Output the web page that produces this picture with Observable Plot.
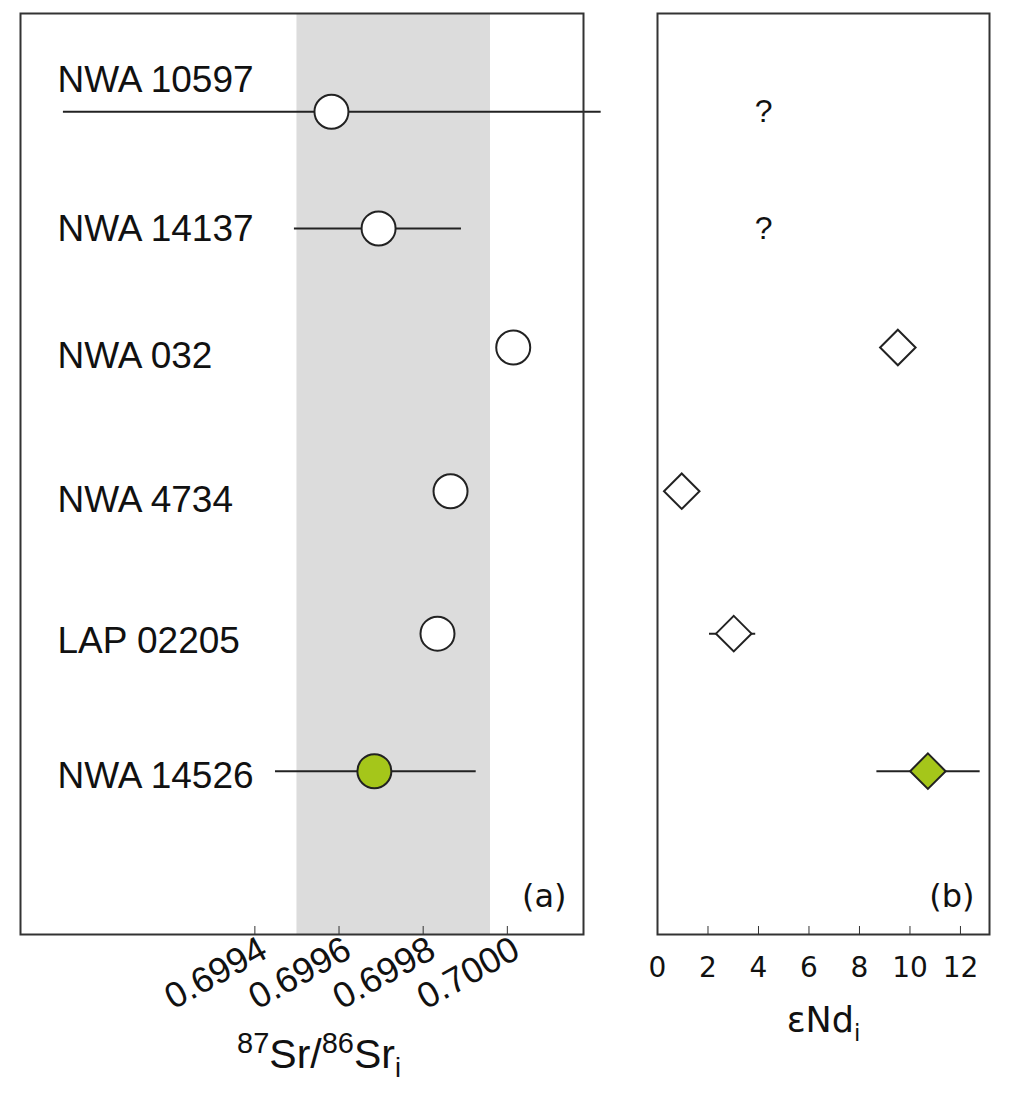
<!DOCTYPE html>
<html><head><meta charset="utf-8">
<script src="https://cdn.jsdelivr.net/npm/d3@7"></script>
<script src="https://cdn.jsdelivr.net/npm/@observablehq/plot@0.6"></script>
<style>
body{margin:0;background:#fff;}
#wrap{position:relative;width:1009px;height:1098px;overflow:hidden;}
#a,#b{position:absolute;top:0;}
#a{left:0}
#b{left:620px}
svg{overflow:visible}
</style></head><body><div id="wrap"><div id="a"></div><div id="b"></div></div>
<script>
// ---- data ----
const samples  = ["NWA 10597","NWA 14137","NWA 032","NWA 4734","LAP 02205","NWA 14526"];
const rowPos   = [0.80, 1.75, 2.72, 3.89, 5.05, 6.17];   // vertical position of each sample row
const labelPos = [0.54, 1.76, 2.79, 3.96, 5.11, 6.21];   // vertical position of each sample name
const srValue  = [0.699582, 0.699694, 0.700014, 0.699865, 0.699834, 0.699684];
const srLow    = [0.698945, 0.699494, null, null, null, 0.699449];
const srHigh   = [0.700223, 0.699891, null, null, null, 0.699926];
const ndValue  = [null, null, 9.52, 0.96, 3.02, 10.71];
const ndLow    = [null, null, null, null, 2.06, 8.69];
const ndHigh   = [null, null, null, null, 3.89, 12.78];
const isNew    = [false, false, false, false, false, true];
const srBand   = [0.6995, 0.69996];
const srTicks  = [0.6994, 0.6996, 0.6998, 0.7000];
const ndTicks  = [0, 2, 4, 6, 8, 10, 12];
const unknownNd = 4.2;
const srDomain = [0.698843, 0.700181];
const ndDomain = [0, 13.15];
const rowDomain = [0, 7.5];

const GREEN = "#a5c61a", INK = "#222", FRAME = "#333";
const rows = samples.map((s, i) => ({
  name: s, row: rowPos[i], lab: labelPos[i],
  sr: srValue[i], srLo: srLow[i], srHi: srHigh[i],
  nd: ndValue[i], ndLo: ndLow[i], ndHi: ndHigh[i], isNew: isNew[i]
}));
const sans = "Liberation Sans, Arial, Helvetica, sans-serif";
const deja = "DejaVu Sans, Verdana, sans-serif";

const plotA = Plot.plot({
  width: 620, height: 1098,
  marginLeft: 20, marginRight: 37, marginTop: 13, marginBottom: 164,
  style: {fontFamily: sans, background: "transparent", overflow: "visible"},
  x: {domain: srDomain},
  y: {domain: rowDomain, reverse: true, axis: null},
  marks: [
    Plot.rect([srBand], {x1: d => d[0], x2: d => d[1], fill: "#dcdcdc"}),
    Plot.ruleY(rows.filter(d => d.srLo != null), {y: "row", x1: "srLo", x2: "srHi", stroke: INK, strokeWidth: 2}),
    Plot.dot(rows.filter(d => !d.isNew), {x: "sr", y: "row", r: 17, fill: "white", stroke: INK, strokeWidth: 2}),
    Plot.dot(rows.filter(d => d.isNew), {x: "sr", y: "row", r: 17, fill: GREEN, stroke: INK, strokeWidth: 2}),
    Plot.text(rows, {y: "lab", text: "name", frameAnchor: "left", dx: 37, textAnchor: "start", fontSize: 37, fill: "#111"}),
    Plot.text(["(a)"], {text: d => d, frameAnchor: "bottom-right", dx: -17, dy: -38, textAnchor: "end", lineAnchor: "middle", fontSize: 32, fontFamily: deja, fill: "#111"}),
    Plot.frame({stroke: FRAME, strokeWidth: 2}),
    Plot.axisX({ticks: srTicks, tickSize: 8, dy: -8, tickFormat: () => "", stroke: FRAME, label: null}),
    Plot.axisX({ticks: srTicks, tickSize: 0, tickPadding: 12, dx: 9, tickRotate: -29, tickFormat: d3.format(".4f"), fontSize: 36, fill: "#111", label: null}),
    Plot.text(["87Sr/86Sri"], {text: d => d, frameAnchor: "bottom", dx: 17, dy: 120, lineAnchor: "middle", fontSize: 41, fill: "#111"})
  ]
});

const plotB = Plot.plot({
  width: 389, height: 1098,
  marginLeft: 37, marginRight: 20, marginTop: 13, marginBottom: 164,
  style: {fontFamily: deja, background: "transparent", overflow: "visible"},
  x: {domain: ndDomain},
  y: {domain: rowDomain, reverse: true, axis: null},
  marks: [
    Plot.ruleY(rows.filter(d => d.ndLo != null), {y: "row", x1: "ndLo", x2: "ndHi", stroke: INK, strokeWidth: 2}),
    Plot.dot(rows.filter(d => d.nd != null && !d.isNew), {x: "nd", y: "row", symbol: "diamond2", r: 16, fill: "white", stroke: INK, strokeWidth: 2}),
    Plot.dot(rows.filter(d => d.nd != null && d.isNew), {x: "nd", y: "row", symbol: "diamond2", r: 16, fill: GREEN, stroke: INK, strokeWidth: 2}),
    Plot.text(rows.filter(d => d.nd == null), {x: () => unknownNd, y: "row", text: () => "?", fontSize: 32, fontFamily: sans, fill: "#111"}),
    Plot.text(["(b)"], {text: d => d, frameAnchor: "bottom-right", dx: -15, dy: -38, textAnchor: "end", lineAnchor: "middle", fontSize: 32, fill: "#111"}),
    Plot.frame({stroke: FRAME, strokeWidth: 2}),
    Plot.axisX({ticks: ndTicks.filter(d => d > 0), tickSize: 8, dy: -8, tickFormat: () => "", stroke: FRAME, label: null}),
    Plot.axisX({ticks: ndTicks, tickSize: 0, tickPadding: 23, fontSize: 28, fill: "#111", label: null}),
    Plot.text(["εNdi"], {text: d => d, frameAnchor: "bottom", dx: 0, dy: 86, lineAnchor: "middle", fontSize: 35, fill: "#111"})
  ]
});

function richLabel(svg, plain, html) {
  svg.querySelectorAll("text").forEach(t => { if (t.textContent === plain) t.innerHTML = html; });
}
richLabel(plotA, "87Sr/86Sri",
  '<tspan font-size="29" dy="-15">87</tspan><tspan dy="15">Sr/</tspan><tspan font-size="29" dy="-15">86</tspan><tspan dy="15">Sr</tspan><tspan font-size="27" dy="9">i</tspan>');
richLabel(plotB, "εNdi",
  '<tspan>εNd</tspan><tspan font-size="23" dy="9">i</tspan>');

document.getElementById("a").appendChild(plotA);
document.getElementById("b").appendChild(plotB);
</script>
</body></html>
